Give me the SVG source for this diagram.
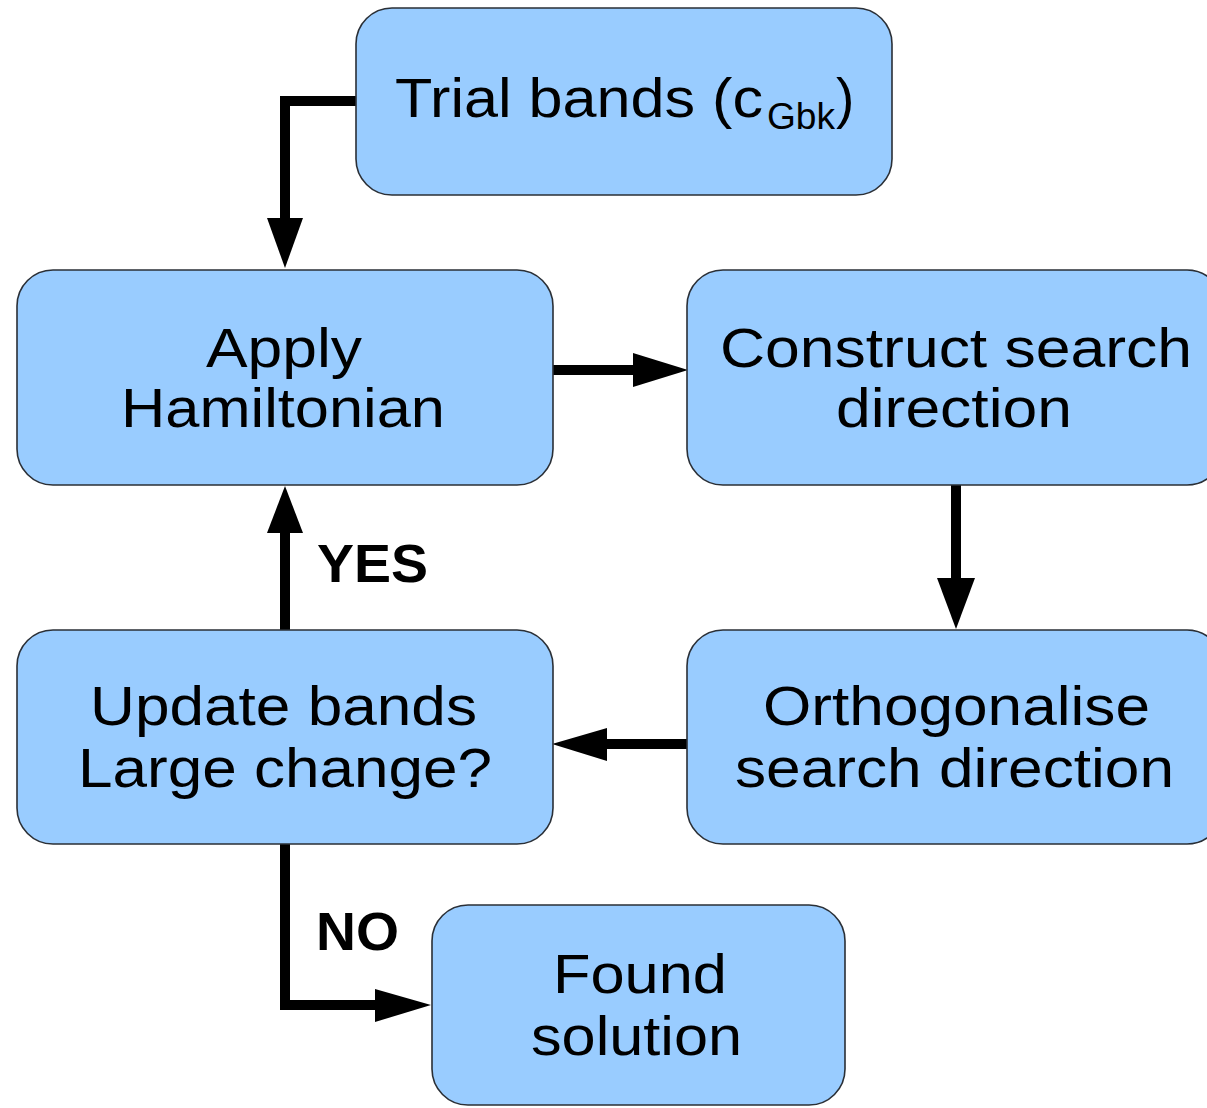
<svg xmlns="http://www.w3.org/2000/svg" width="1207" height="1108" viewBox="0 0 1207 1108">
<style>
.box{fill:#99ccff;stroke:#2a2f36;stroke-width:1.6}
.t{font-family:"Liberation Sans",Arial,sans-serif;font-size:55px;fill:#000}
.lbl{font-family:"Liberation Sans",Arial,sans-serif;font-size:54px;font-weight:bold;fill:#000}
.ln{fill:none;stroke:#000;stroke-width:10}
.hd{fill:#000}
</style>
<rect width="1207" height="1108" fill="#fff"/>
<g id="connectors">
  <polyline class="ln" points="357,101 285,101 285,220"/>
  <polygon class="hd" points="267,218 303,218 285,268"/>
  <line class="ln" x1="550" y1="370" x2="635" y2="370"/>
  <polygon class="hd" points="633,353 633,387 688,370"/>
  <line class="ln" x1="956" y1="485" x2="956" y2="580"/>
  <polygon class="hd" points="937,578 975,578 956,629"/>
  <line class="ln" x1="690" y1="744" x2="605" y2="744"/>
  <polygon class="hd" points="607,728 607,761 552,744"/>
  <line class="ln" x1="285" y1="631" x2="285" y2="531"/>
  <polygon class="hd" points="267,533 303,533 285,486"/>
  <polyline class="ln" points="285,843 285,1005 377,1005"/>
  <polygon class="hd" points="375,989 375,1022 431,1005"/>
  <text class="lbl" x="317" y="582" textLength="111" lengthAdjust="spacingAndGlyphs">YES</text>
  <text class="lbl" x="316" y="950" textLength="83" lengthAdjust="spacingAndGlyphs">NO</text>
</g>
<g id="trial">
  <rect class="box" x="356" y="8" width="536" height="187" rx="36" ry="36"/>
  <text class="t" x="395" y="117" textLength="368" lengthAdjust="spacingAndGlyphs">Trial bands (c</text>
  <text class="t" x="767" y="129" style="font-size:36px" textLength="68" lengthAdjust="spacingAndGlyphs">Gbk</text>
  <text class="t" x="836" y="117">)</text>
</g>
<g id="apply">
  <rect class="box" x="17" y="270" width="536" height="215" rx="36" ry="36"/>
  <text class="t" x="206" y="367" textLength="156" lengthAdjust="spacingAndGlyphs">Apply</text>
  <text class="t" x="121" y="427" textLength="324" lengthAdjust="spacingAndGlyphs">Hamiltonian</text>
</g>
<g id="construct">
  <rect class="box" x="687" y="270" width="536" height="215" rx="36" ry="36"/>
  <text class="t" x="720" y="367" textLength="472" lengthAdjust="spacingAndGlyphs">Construct search</text>
  <text class="t" x="836" y="427" textLength="236" lengthAdjust="spacingAndGlyphs">direction</text>
</g>
<g id="orthogonalise">
  <rect class="box" x="687" y="630" width="536" height="214" rx="36" ry="36"/>
  <text class="t" x="763" y="725" textLength="387" lengthAdjust="spacingAndGlyphs">Orthogonalise</text>
  <text class="t" x="735" y="787" textLength="439" lengthAdjust="spacingAndGlyphs">search direction</text>
</g>
<g id="update">
  <rect class="box" x="17" y="630" width="536" height="214" rx="36" ry="36"/>
  <text class="t" x="90" y="725" textLength="387" lengthAdjust="spacingAndGlyphs">Update bands</text>
  <text class="t" x="78" y="787" textLength="414" lengthAdjust="spacingAndGlyphs">Large change?</text>
</g>
<g id="found">
  <rect class="box" x="432" y="905" width="413" height="200" rx="36" ry="36"/>
  <text class="t" x="553" y="993" textLength="174" lengthAdjust="spacingAndGlyphs">Found</text>
  <text class="t" x="531" y="1055" textLength="211" lengthAdjust="spacingAndGlyphs">solution</text>
</g>
</svg>
